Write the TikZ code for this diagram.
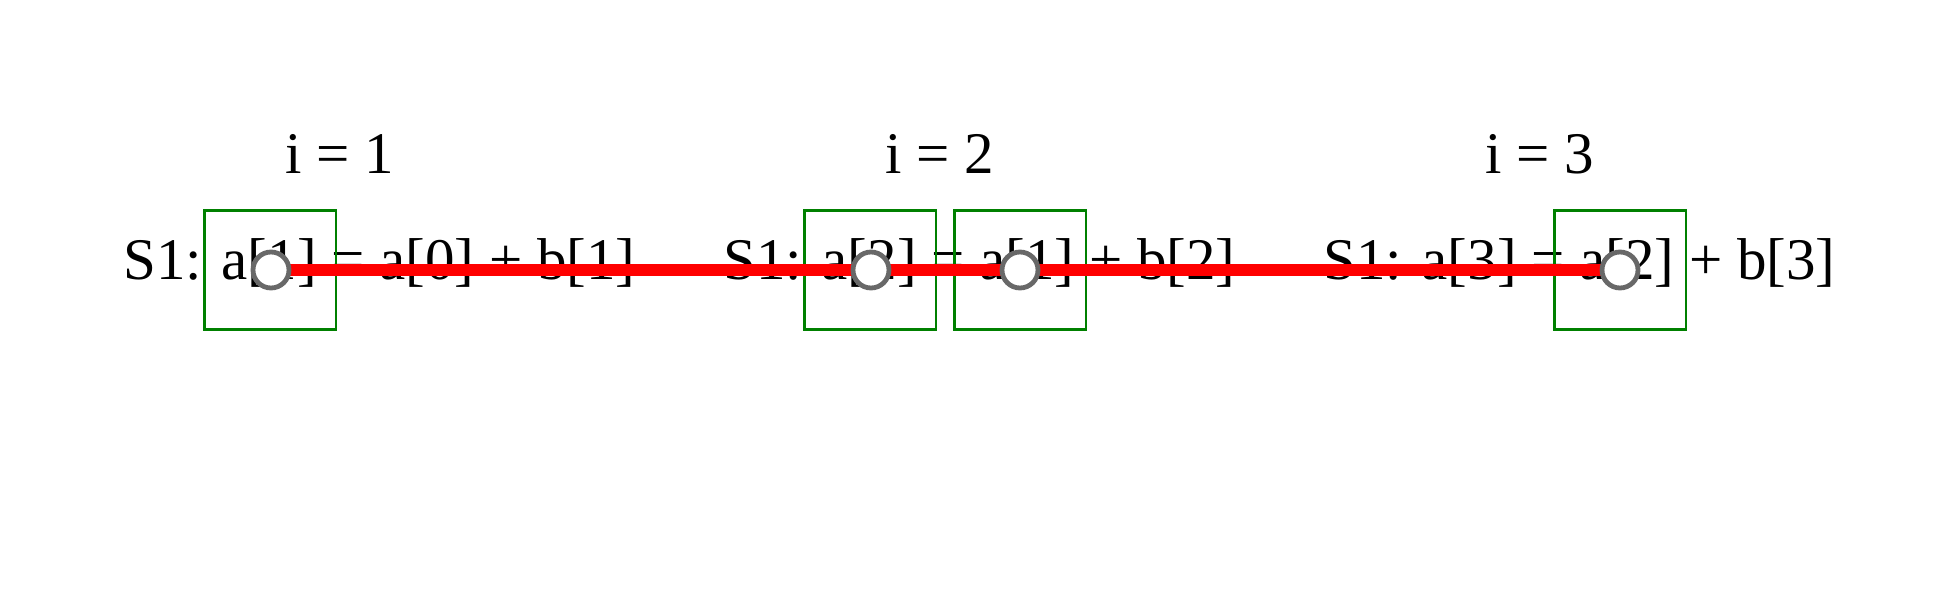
\documentclass[tikz,border=0pt]{standalone}
\usepackage{fontspec}
\setmainfont{Liberation Serif}
\definecolor{boxgreen}{RGB}{0,128,0}
\definecolor{circgray}{RGB}{104,104,104}
\definecolor{depred}{RGB}{255,0,0}
\begin{document}
\begin{tikzpicture}[x=0.5pt,y=-0.5pt,
  txt/.style={inner sep=0pt,anchor=base west,font=\fontsize{29.5pt}{36pt}\selectfont},
  lbl/.style={inner sep=0pt,anchor=base,font=\fontsize{29.5pt}{36pt}\selectfont},
  hlbox/.style={draw=boxgreen,line width=1.1pt,minimum width=65.6pt,minimum height=59.5pt,inner sep=0pt},
  dep/.style={draw=depred,line width=6pt},
  circ/.style={circle,draw=circgray,fill=white,line width=2.4pt,minimum size=18pt,inner sep=0pt}]
\useasboundingbox (0,0) rectangle (1950,600);
% iteration labels
\node[lbl] (l1) at (339.5,173) {i = 1};
\node[lbl] (l2) at (939.5,173) {i = 2};
\node[lbl] (l3) at (1539.5,173) {i = 3};
% statements
\node[txt] (s1) at (123,279) {S1: a[1] = a[0] + b[1]};
\node[txt] (s2) at (723,279) {S1: a[2] = a[1] + b[2]};
\node[txt] (s3) at (1323,279) {S1: a[3] = a[2] + b[3]};
% highlight boxes
\node[hlbox] (b1) at (270,270) {};
\node[hlbox] (b2) at (870,270) {};
\node[hlbox] (b3) at (1020,270) {};
\node[hlbox] (b4) at (1620,270) {};
% dependence chain
\coordinate (p1) at (271,270);
\coordinate (p2) at (871,270);
\coordinate (p3) at (1020,270);
\coordinate (p4) at (1620,270);
\draw[dep] (p1) -- (p2);
\draw[dep] (p2) -- (p3);
\draw[dep] (p3) -- (p4);
\node[circ] (c1) at (p1) {};
\node[circ] (c2) at (p2) {};
\node[circ] (c3) at (p3) {};
\node[circ] (c4) at (p4) {};
\end{tikzpicture}
\end{document}
